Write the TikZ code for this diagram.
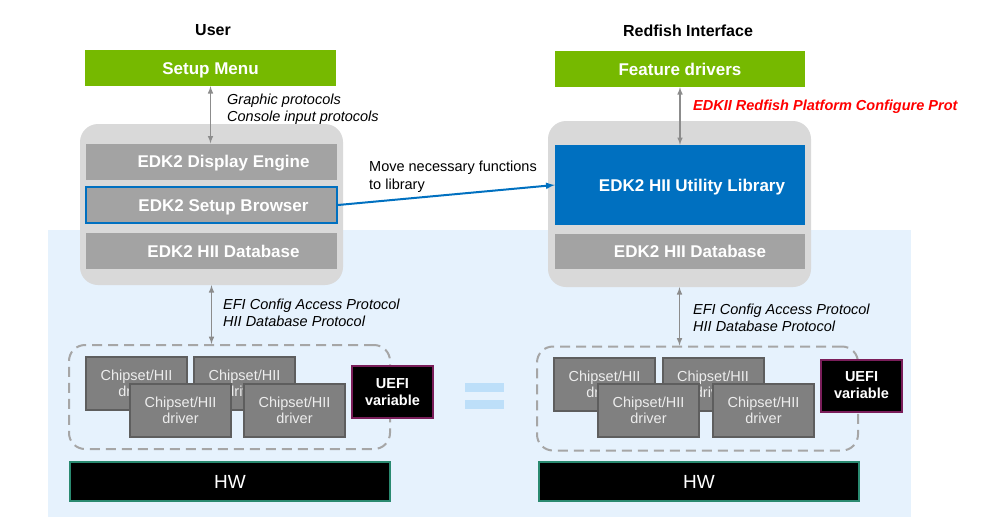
\documentclass[tikz,border=0pt]{standalone}
\usepackage{fontspec}
\setmainfont{Liberation Sans}
\usetikzlibrary{arrows,calc}
\definecolor{edkgreen}{HTML}{76B900}
\definecolor{holdgrey}{HTML}{D9D9D9}
\definecolor{bargrey}{HTML}{A3A3A3}
\definecolor{libblue}{HTML}{0070C0}
\definecolor{bgblue}{HTML}{E6F2FD}
\definecolor{eqblue}{HTML}{BDDFF9}
\definecolor{chipgrey}{HTML}{808080}
\definecolor{chipedge}{HTML}{5E5E5E}
\definecolor{uefiedge}{HTML}{7A1E5A}
\definecolor{hwedge}{HTML}{2A8A70}
\definecolor{dashgrey}{HTML}{A6A6A6}
\definecolor{arrowgrey}{HTML}{8C8C8C}

\begin{document}
\begin{tikzpicture}[x=1pt,y=-1pt]
\path [use as bounding box] (0,0) rectangle (1000,530);
\tikzstyle{box} = [rectangle, inner sep=0pt, align=center]
\tikzstyle{title} = [box, font=\bfseries\fontsize{16}{19}\selectfont]
\tikzstyle{menubox} = [box, fill=edkgreen, text=white, minimum width=251pt, minimum height=36pt, text height=12.2pt, text depth=0pt, font=\bfseries\fontsize{17}{20}\selectfont]
\tikzstyle{holder} = [box, fill=holdgrey, minimum width=263pt, rounded corners=18pt]
\tikzstyle{bar} = [box, fill=bargrey, minimum width=251pt, minimum height=36pt]
\tikzstyle{bartext} = [text=white, inner sep=0pt, xshift=12pt, text height=12.2pt, text depth=0pt, font=\bfseries\fontsize{17}{20}\selectfont]
\tikzstyle{drvgroup} = [box, draw=dashgrey, line width=2pt, dash pattern=on 10pt off 6pt, rounded corners=16pt, minimum width=321pt, minimum height=104pt]
\tikzstyle{chip} = [box, fill=chipgrey, draw=chipedge, line width=2pt, minimum width=101pt, minimum height=53pt, text=white!93!black, font=\fontsize{14.5}{16}\selectfont]
\tikzstyle{uefi} = [box, fill=black, draw=uefiedge, line width=2pt, minimum width=81pt, minimum height=52pt, text=white, font=\bfseries\fontsize{14.5}{17}\selectfont]
\tikzstyle{hwbox} = [box, fill=black, draw=hwedge, line width=2pt, minimum width=320pt, minimum height=39pt, text=white, font=\fontsize{19}{22}\selectfont]
\tikzstyle{link} = [<->, >=latex, arrowgrey, line width=1.5pt]
\tikzstyle{note} = [box, align=left, anchor=west, font=\itshape\fontsize{14.5}{17}\selectfont]
% light blue firmware area and the equals sign
\fill[bgblue] (48,230) rectangle (911,517);
\fill[eqblue] (465,383) rectangle (504,392);
\fill[eqblue] (465,400) rectangle (504,409);
% left: user side
\node[title] (user) at (213,30) {User};
\node[menubox] (menu) at (210.5,68) {Setup Menu};
\node[holder, minimum height=161pt] (ctrL) at (211.5,204.5) {};
\node[bar, label={[bartext]center:EDK2 Display Engine}] (display) at (211.5,161.5) {};
\node[bar, draw=libblue, line width=2pt, label={[bartext]center:EDK2 Setup Browser}] (browser) at (211.5,205) {};
\node[bar, label={[bartext]center:EDK2 HII Database}] (dbL) at (211.5,251) {};
\draw[link] (menu.south) -- (menu.south |- display.north);
\node[note] (gfx) at (227,109) {Graphic protocols\\Console input protocols};
\node[drvgroup] (drvL) at (229.5,397) {};
\draw[link] (ctrL.south) -- (ctrL.south |- drvL.north);
\node[note] (cfgL) at (223,312.5) {EFI Config Access Protocol\\HII Database Protocol};
\node[chip] (chipA) at (136.5,383.5) {Chipset/HII\\driver};
\node[chip] (chipB) at (244.5,383.5) {Chipset/HII\\driver};
\node[chip] (chipC) at (180.5,410) {Chipset/HII\\driver};
\node[chip] (chipD) at (294.5,410) {Chipset/HII\\driver};
\node[uefi] (varL) at (392.5,392) {UEFI\\variable};
\node[hwbox] (hwL) at (230,481.5) {HW};
% right: redfish side
\node[title] (redfish) at (688,31) {Redfish Interface};
\node[menubox, minimum width=250pt] (feature) at (680,69) {Feature drivers};
\node[holder, minimum height=166pt] (ctrR) at (679.5,204) {};
\node[bar, fill=libblue, minimum width=250pt, minimum height=80pt, label={[bartext]center:EDK2 HII Utility Library}] (util) at (680,185) {};
\node[bar, minimum width=250pt, minimum height=35pt, label={[bartext, xshift=-2pt]center:EDK2 HII Database}] (dbR) at (680,251.5) {};
\draw[link] (feature.south) -- (util.north);
\node[note, text=red, font=\bfseries\itshape\fontsize{14.5}{17}\selectfont] (rpc) at (693,106.5) {EDKII Redfish Platform Configure Prot};
\node[drvgroup] (drvR) at (697.5,398.5) {};
\draw[link] (ctrR.south) -- (ctrR.south |- drvR.north);
\node[note] (cfgR) at (693,317.5) {EFI Config Access Protocol\\HII Database Protocol};
\node[chip] (chipE) at (604.5,384.5) {Chipset/HII\\driver};
\node[chip] (chipF) at (713,384.5) {Chipset/HII\\driver};
\node[chip] (chipG) at (648.5,410.5) {Chipset/HII\\driver};
\node[chip] (chipH) at (763.5,410.5) {Chipset/HII\\driver};
\node[uefi] (varR) at (861.5,385.5) {UEFI\\variable};
\node[hwbox] (hwR) at (699,481.5) {HW};
% browser functions moved into the library
\draw[->, >=latex, libblue, line width=2pt] (browser.east) -- (util.west);
\node[note, font=\fontsize{14.5}{18}\selectfont] (move) at (369,176.5) {Move necessary functions\\to library};
\end{tikzpicture}
\end{document}
